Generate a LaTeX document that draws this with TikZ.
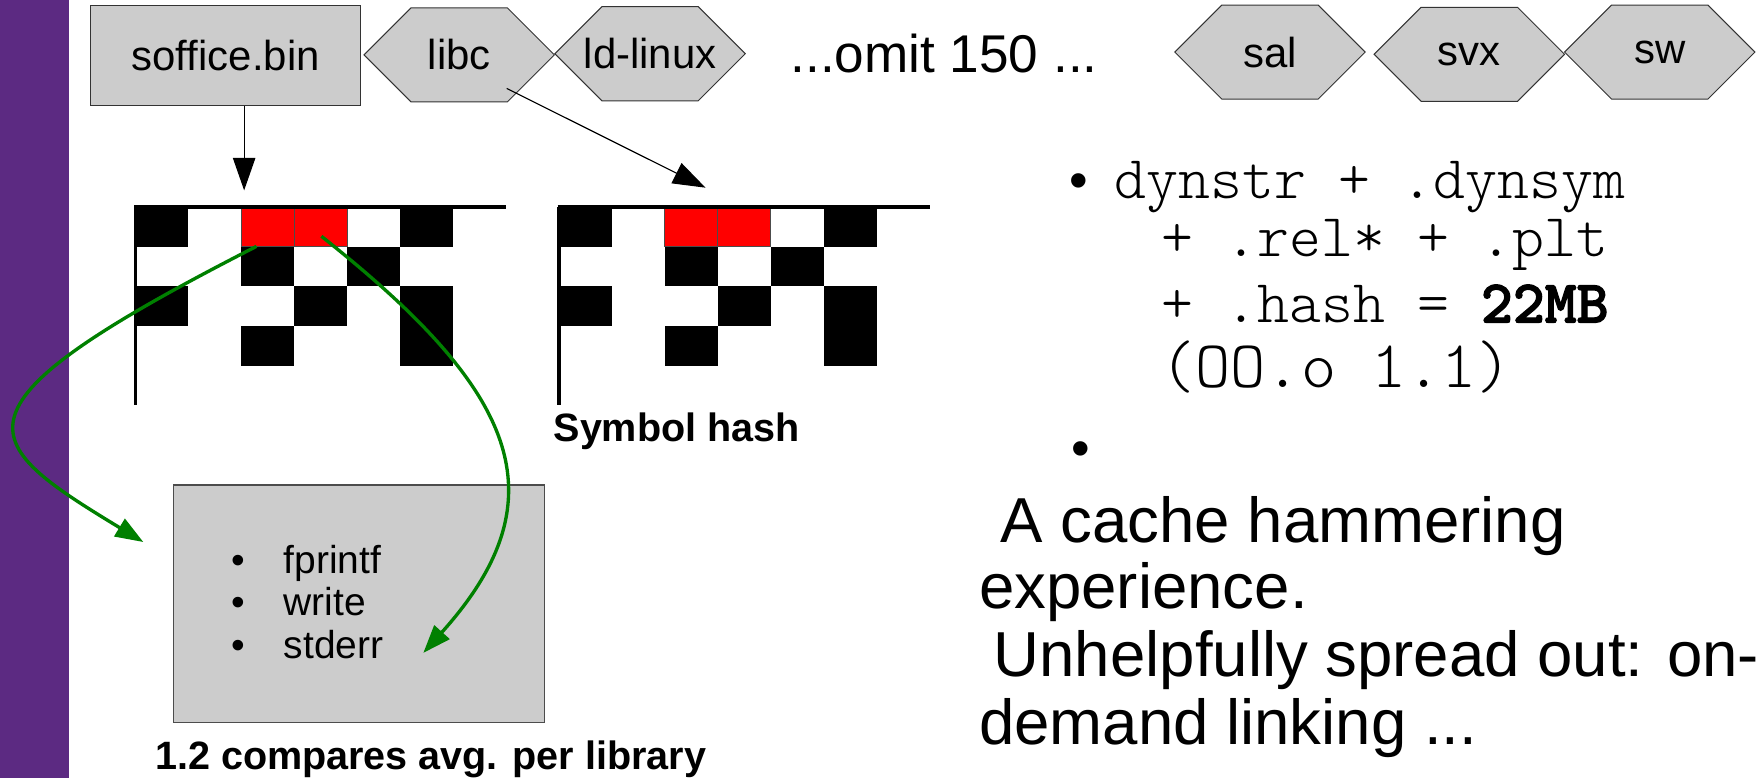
\documentclass[tikz,border=0pt]{standalone}
\usepackage{fontspec}
\setmainfont{Liberation Sans}
\setmonofont{lmmonolt10-regular.otf}[BoldFont=lmmonolt10-bold.otf,BoldFeatures={FakeBold=2}]
\usetikzlibrary{arrows.meta}
\definecolor{slidepurple}{RGB}{92,42,130}
\definecolor{boxgray}{RGB}{204,204,204}
\definecolor{jumpgreen}{RGB}{0,128,0}
\newcommand{\libtext}{\fontsize{21.3}{25}\selectfont}
\newcommand{\omittext}{\fontsize{27}{32}\selectfont}
\newcommand{\hashtext}{\fontsize{20.1}{24}\selectfont\bfseries}
\newcommand{\itemtext}{\fontsize{19.8}{23}\selectfont}
\newcommand{\codetext}{\fontsize{30.9}{36}\selectfont\ttfamily}
\newcommand{\bodytext}{\fontsize{32.3}{38}\selectfont}
\begin{document}
\begin{tikzpicture}[x=0.02cm,y=-0.02cm,
  libbox/.style={draw=black!80,fill=boxgray,line width=0.5pt,inner sep=0pt,font=\libtext},
  hexline/.style={draw=black!80,fill=boxgray,line width=0.5pt},
  ptr/.style={-{Triangle[length=0.58cm,width=0.4cm]},line width=0.6pt},
  jump/.style={-{Triangle[length=0.5cm,width=0.36cm]},jumpgreen,line width=1.7pt},
  txt/.style={anchor=base west,inner sep=0pt}]
\useasboundingbox (0,0) rectangle (1568,695);
\fill[slidepurple] (0,0) rectangle (62,695);
% libraries
\node[libbox,minimum width=4.82cm,minimum height=1.78cm] (soffice) at (201.5,49.5) {soffice.bin};
\foreach \n/\hx/\hy/\t in {libc/410/49/libc,ldlinux/580.5/48/ld-linux,sal/1134/46.5/sal,svx/1312/48.5/svx,sw/1482/46.5/sw}{
  \filldraw[hexline] (\hx-85,\hy) -- ++(42,-42) -- ++(86,0) -- ++(42,42) -- ++(-42,42) -- ++(-86,0) -- cycle;
  \node[font=\libtext,inner sep=0pt] (\n) at (\hx,\hy) {\t};
}
\node[font=\omittext] (omit) at (843,48) {...omit 150 ...};
% hash tables
\foreach \gx in {121,499}{
  \foreach \c/\r in {1/1,6/1,3/2,5/2,1/3,4/3,6/3,3/4,6/4}
    \fill ({\gx+(\c-1)*47.3},{185+(\r-1)*35.4}) rectangle ++(47.3,35.4);
  \foreach \c in {3,4}
    \filldraw[fill=red,draw=black!70,line width=0.4pt] ({\gx+(\c-1)*47.3},185) rectangle ++(47.3,35.4);
  \draw[line width=2pt] (\gx-1,184.5) -- ++(332,0);
  \draw[line width=1.7pt] (\gx,184.5) -- (\gx,362);
}
\node[txt,font=\hashtext] (symhash) at (494,394) {Symbol hash};
\coordinate (hashA) at (218,170);
\coordinate (hashB) at (630,167.6);
\draw[ptr] (soffice.south -| hashA) -- (hashA);
\draw[ptr] ([shift={(42.5,30)}]libc.center) -- (hashB);
% calls
\node[draw=black!70,fill=boxgray,line width=0.6pt,minimum width=6.62cm,minimum height=4.24cm] (calls) at (320.5,539) {};
\foreach \t [count=\i] in {fprintf,write,stderr}{
  \node[font=\itemtext,anchor=base,inner sep=0pt] (dot\i) at (213,{474+38*\i}) {\textbullet};
  \node[txt,font=\itemtext] (item\i) at (253,{474+38*\i}) {\t};
}
\node[font=\hashtext,anchor=base,inner sep=0pt] (caption) at (384.5,687) {1.2 compares avg. per library};
\coordinate (redA) at (229,220);
\coordinate (redB) at (287,211);
\coordinate (callsA) at (128,484);
\coordinate (callsB) at (378,583);
\draw[jump] (redA) .. controls (-55,365) and (-22,393) .. (callsA);
\draw[jump] (redB) .. controls (460,348) and (504,443) .. (callsB);
% notes
\node[font=\omittext,anchor=base,inner sep=0pt] (bul1) at (963,177) {\textbullet};
\node[txt,font=\codetext] (dyn1) at (995,177) {dynstr + .dynsym};
\node[txt,font=\codetext] (dyn2) at (1037,229) {+ .rel* + .plt};
\node[txt,font=\codetext] (dyn3) at (1037,288) {+ .hash = \textbf{22MB}};
\node[txt,font=\codetext\fontsize{34}{40}\selectfont] (dyn4) at (1036,346) {(OO.o 1.1)};
\node[font=\omittext,anchor=base,inner sep=0pt] (bul2) at (965,417) {\textbullet};
\node[txt,font=\bodytext] (line1) at (893,484) {A cache hammering};
\node[txt,font=\bodytext] (line2) at (874,543) {experience.};
\node[txt,font=\bodytext] (line3) at (887,604) {Unhelpfully spread out: on-};
\node[txt,font=\bodytext] (line4) at (874,665) {demand linking ...};
\end{tikzpicture}
\end{document}
